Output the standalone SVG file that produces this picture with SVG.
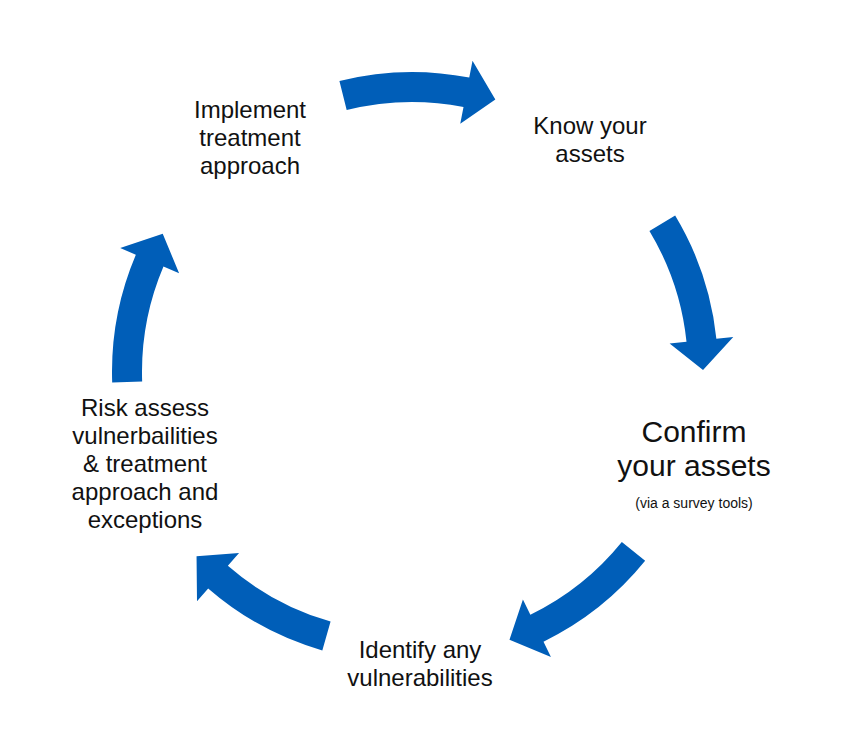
<svg xmlns="http://www.w3.org/2000/svg" xmlns:xlink="http://www.w3.org/1999/xlink" width="868" height="746" viewBox="0 0 868 746">
<style>
text{font-family:"Liberation Sans",Arial,sans-serif;fill:#111;text-anchor:middle}
.l{font-size:24px}.b{font-size:30px}.s{font-size:14px}
.arr{fill:#005EB8}
</style>
<defs>
<path id="a" class="arr" d="M300,0 A300,300 0 0 1 271.9,126.8 L287.3,134.0 L244.3,146.8 L229.3,106.9 L244.7,114.1 A270,270 0 0 0 270,0 Z"/>
</defs>
<rect width="868" height="746" fill="#fff"/>
<g id="connectors">
<use xlink:href="#a" href="#a" transform="translate(412,372) rotate(-104)"/>
<use xlink:href="#a" href="#a" transform="translate(418,370) rotate(-31)"/>
<use xlink:href="#a" href="#a" transform="translate(412,372) rotate(39)"/>
<use xlink:href="#a" href="#a" transform="translate(405,362) rotate(106)"/>
<use xlink:href="#a" href="#a" transform="translate(412,372) rotate(178)"/>
</g>
<g id="implement"><text class="l" x="250" y="118">Implement</text><text class="l" x="250" y="146">treatment</text><text class="l" x="250" y="174">approach</text></g>
<g id="know"><text class="l" x="590" y="134">Know your</text><text class="l" x="590" y="162">assets</text></g>
<g id="confirm"><text class="b" x="694" y="442">Confirm</text><text class="b" x="694" y="476">your assets</text><text class="s" x="694" y="508">(via a survey tools)</text></g>
<g id="identify"><text class="l" x="420" y="658">Identify any</text><text class="l" x="420" y="686">vulnerabilities</text></g>
<g id="risk"><text class="l" x="145" y="416">Risk assess</text><text class="l" x="145" y="444">vulnerbailities</text><text class="l" x="145" y="472">&amp; treatment</text><text class="l" x="145" y="500">approach and</text><text class="l" x="145" y="528">exceptions</text></g>
</svg>
